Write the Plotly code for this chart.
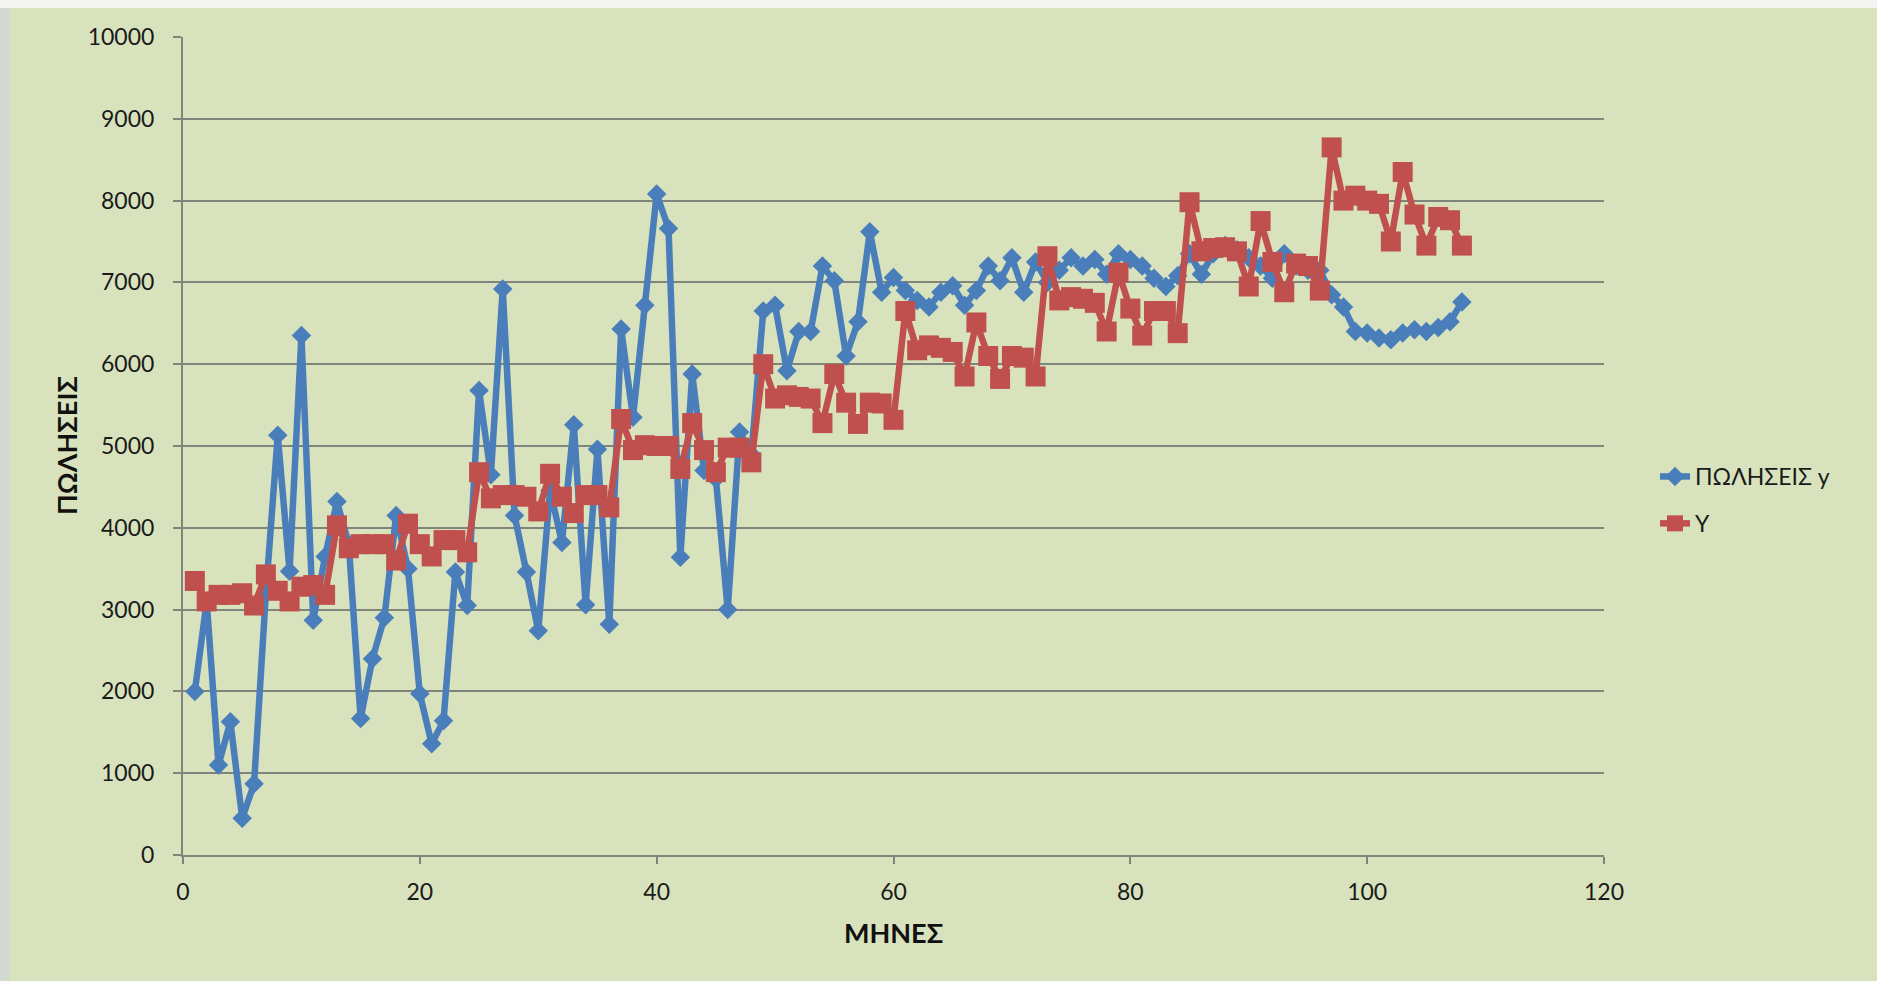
import plotly.graph_objects as go

# Months 1..108
months = list(range(1, 109))

# Monthly sales (ΠΩΛΗΣΕΙΣ y)
sales_y = [
    2000, 3100, 1100, 1630, 450, 870, 3200, 5130, 3470, 6350,
    2870, 3650, 4320, 3800, 1670, 2400, 2900, 4150, 3500, 1970,
    1360, 1640, 3460, 3050, 5680, 4650, 6920, 4150, 3460, 2740,
    4460, 3820, 5260, 3060, 4960, 2820, 6430, 5350, 6720, 8080,
    7660, 3640, 5880, 4700, 4600, 3000, 5170, 4900, 6650, 6720,
    5920, 6400, 6400, 7200, 7020, 6100, 6520, 7620, 6880, 7060,
    6900, 6780, 6700, 6880, 6960, 6720, 6900, 7200, 7020, 7300,
    6880, 7250, 7000, 7150, 7300, 7200, 7280, 7100, 7350, 7280,
    7200, 7050, 6950, 7080, 7350, 7100, 7350, 7450, 7400, 7300,
    7200, 7050, 7350, 7200, 7150, 7150, 6850, 6700, 6400, 6380,
    6320, 6300, 6380, 6420, 6400, 6450, 6520, 6760,
]

# Fitted series (Y)
fitted_Y = [
    3350, 3100, 3180, 3180, 3200, 3050, 3430, 3230, 3100, 3280,
    3300, 3180, 4030, 3750, 3800, 3800, 3800, 3600, 4050, 3800,
    3650, 3850, 3850, 3700, 4680, 4360, 4400, 4400, 4380, 4200,
    4660, 4380, 4180, 4400, 4400, 4250, 5330, 4950, 5010, 5000,
    5000, 4720, 5280, 4950, 4680, 4980, 4980, 4800, 6000, 5580,
    5620, 5600, 5580, 5280, 5880, 5530, 5270, 5530, 5520, 5320,
    6650, 6170, 6230, 6200, 6150, 5850, 6510, 6100, 5820, 6100,
    6080, 5850, 7320, 6780, 6820, 6800, 6750, 6400, 7120, 6680,
    6350, 6650, 6650, 6380, 7980, 7380, 7420, 7430, 7380, 6950,
    7750, 7250, 6880, 7230, 7200, 6900, 8650, 8000, 8060, 8000,
    7960, 7500, 8350, 7830, 7450, 7800, 7760, 7450,
]

x_ticks = [0, 20, 40, 60, 80, 100, 120]
y_ticks = list(range(0, 10001, 1000))

BLUE = "#4a7ebb"
RED = "#c0504d"
GRID = "#80857c"
BG = "#d8e3bd"
FONT = "Lato, 'Open Sans', 'DejaVu Sans', sans-serif"

W, H = 1877, 981
L, R, T, B = 183, 273, 37, 126
PW, PH = W - L - R, H - T - B

fig = go.Figure()
fig.add_trace(go.Scatter(
    x=months, y=sales_y, name="ΠΩΛΗΣΕΙΣ y", mode="lines+markers",
    line=dict(color=BLUE, width=6.5),
    marker=dict(symbol="diamond", size=15, color=BLUE),
    legendgroup="a",
))
fig.add_trace(go.Scatter(
    x=months, y=fitted_Y, name="Y", mode="lines+markers",
    line=dict(color=RED, width=6.5),
    marker=dict(symbol="square", size=20, color=RED),
    legendgroup="b",
))


def px_x(p):
    return (p - L) / PW


def px_y(p):
    return (H - B - p) / PH


fig.update_layout(
    width=W, height=H,
    margin=dict(l=L, r=R, t=T, b=B),
    paper_bgcolor=BG, plot_bgcolor=BG,
    font=dict(family=FONT, size=23, color="#1a1a1a"),
    showlegend=True,
    legend=dict(
        x=px_x(1655), y=px_y(455), xanchor="left", yanchor="top",
        bgcolor="rgba(0,0,0,0)", font=dict(size=23),
        tracegroupgap=14, traceorder="grouped",
    ),
    xaxis=dict(
        range=[0, 120], tickvals=x_ticks, ticktext=[str(v) for v in x_ticks],
        showgrid=False, zeroline=False,
        showline=True, linecolor=GRID, linewidth=2,
        ticks="outside", ticklen=7, tickwidth=2, tickcolor=GRID,
        ticklabelstandoff=8,
    ),
    yaxis=dict(
        range=[0, 10000], tickvals=y_ticks, ticktext=[str(v) for v in y_ticks],
        showgrid=True, gridcolor=GRID, gridwidth=2, zeroline=False,
        showline=True, linecolor=GRID, linewidth=2,
        ticks="outside", ticklen=8, tickwidth=2, tickcolor=GRID,
        ticklabelstandoff=14,
    ),
    annotations=[
        dict(text="<b>ΜΗΝΕΣ</b>", xref="paper", yref="paper",
             x=0.5, y=px_y(932), xanchor="center", yanchor="middle",
             showarrow=False, font=dict(size=27, color="#111")),
        dict(text="<b>ΠΩΛΗΣΕΙΣ</b>", xref="paper", yref="paper",
             x=px_x(66), y=0.5, xanchor="center", yanchor="middle",
             textangle=-90, showarrow=False, font=dict(size=27, color="#111")),
    ],
    shapes=[
        dict(type="rect", xref="paper", yref="paper", layer="below",
             x0=px_x(0), x1=px_x(10), y0=px_y(H), y1=px_y(0),
             fillcolor="#d3dad0", line=dict(width=0)),
        dict(type="rect", xref="paper", yref="paper", layer="below",
             x0=px_x(0), x1=px_x(W), y0=px_y(8), y1=px_y(0),
             fillcolor="#f4f5f2", line=dict(width=0)),
    ],
)

fig.write_html("out.html")
